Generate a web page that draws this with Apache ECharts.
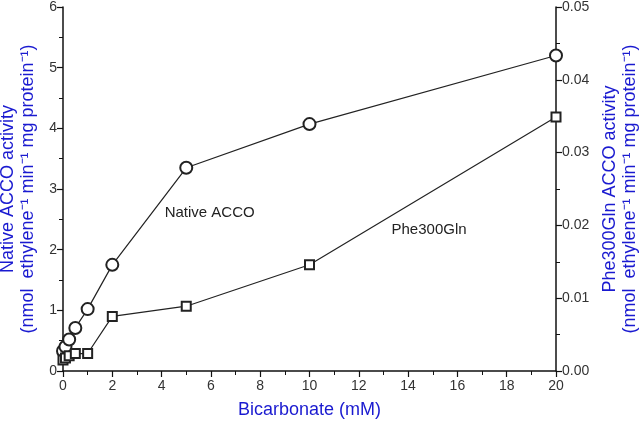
<!DOCTYPE html>
<html><head><meta charset="utf-8">
<script src="https://cdn.jsdelivr.net/npm/echarts@6/dist/echarts.min.js"></script>
<style>html,body{margin:0;padding:0;background:#fff}#c{width:640px;height:422px}</style>
</head><body><div id="c"></div>
<script>
var bicarbonate = [0, 0.1, 0.25, 0.5, 1, 2, 5, 10, 20];
var nativeActivity = [0.33, 0.40, 0.52, 0.71, 1.02, 1.75, 3.35, 4.07, 5.20];
var pheActivity = [0.0015, 0.0018, 0.0021, 0.0024, 0.0024, 0.0075, 0.0089, 0.0146, 0.0349];
var xTicks = [0, 2, 4, 6, 8, 10, 12, 14, 16, 18, 20];
var leftTicks = [0, 1, 2, 3, 4, 5, 6];
var rightTicks = [0, 0.01, 0.02, 0.03, 0.04, 0.05];
var nativeLabel = {text: 'Native ACCO', x: 5.95, y: 2.6};
var pheLabel = {text: 'Phe300Gln', x: 14.85, y: 0.0194};

function pairs(xs, ys){ return xs.map(function(x,i){return [x, ys[i]];}); }

var chart = echarts.init(document.getElementById('c'));
var FONT = 'Liberation Sans, Arial, sans-serif';
var BLUE = '#1a1ad0';
var axisLine = {show: true, lineStyle: {color: '#111', width: 1.5}};
chart.setOption({
  animation: false,
  backgroundColor: '#fff',
  grid: {left: 63, right: 84, top: 7, bottom: 51, containLabel: false, outerBoundsMode: 'none'},
  xAxis: {
    type: 'value', min: xTicks[0], max: xTicks[xTicks.length-1], interval: 2,
    axisLine: axisLine,
    axisTick: {show: true, length: 6, lineStyle: {color: '#111', width: 1.2}},
    minorTick: {show: true, splitNumber: 2, length: 4, lineStyle: {color: '#111', width: 1}},
    splitLine: {show: false},
    axisLabel: {color: '#333', fontSize: 14, fontFamily: FONT, margin: 8},
    name: 'Bicarbonate (mM)', nameLocation: 'middle', nameGap: 30,
    nameTextStyle: {color: BLUE, fontSize: 18, fontFamily: FONT}
  },
  yAxis: [{
    type: 'value', min: leftTicks[0], max: leftTicks[leftTicks.length-1], interval: 1,
    position: 'left',
    axisLine: axisLine,
    axisTick: {show: true, length: 6, lineStyle: {color: '#111', width: 1.2}},
    minorTick: {show: true, splitNumber: 2, length: 4, lineStyle: {color: '#111', width: 1}},
    splitLine: {show: false},
    axisLabel: {color: '#333', fontSize: 14, fontFamily: FONT, margin: 6},
    name: 'Native ACCO activity\n(nmol  ethylene\u207B\u00B9 min\u207B\u00B9 mg protein\u207B\u00B9)',
    nameLocation: 'middle', nameGap: 17, nameRotate: 90,
    nameTextStyle: {color: BLUE, fontSize: 18, fontFamily: FONT, lineHeight: 20}
  }, {
    type: 'value', min: rightTicks[0], max: rightTicks[rightTicks.length-1], interval: 0.01,
    position: 'right',
    axisLine: axisLine,
    axisTick: {show: true, length: 6, lineStyle: {color: '#111', width: 1.2}},
    minorTick: {show: true, splitNumber: 2, length: 4, lineStyle: {color: '#111', width: 1}},
    splitLine: {show: false},
    axisLabel: {color: '#333', fontSize: 14, fontFamily: FONT, margin: 6,
      formatter: function(v){ return v.toFixed(2); }},
    name: 'Phe300Gln ACCO activity\n(nmol  ethylene\u207B\u00B9 min\u207B\u00B9 mg protein\u207B\u00B9)',
    nameLocation: 'middle', nameGap: 44, nameRotate: 90,
    nameTextStyle: {color: BLUE, fontSize: 18, fontFamily: FONT, lineHeight: 20}
  }],
  series: [{
    type: 'line', name: 'Native ACCO', yAxisIndex: 0,
    data: pairs(bicarbonate, nativeActivity),
    symbol: 'emptyCircle', symbolSize: 12, clip: false,
    lineStyle: {color: '#222', width: 1.2},
    itemStyle: {color: '#222', borderWidth: 1},
    markPoint: {symbol: 'circle', symbolSize: 0, silent: true,
      label: {show: true, position: 'inside', color: '#222', fontSize: 15, fontFamily: FONT, formatter: nativeLabel.text},
      data: [{coord: [nativeLabel.x, nativeLabel.y]}]}
  }, {
    type: 'line', name: 'Phe300Gln', yAxisIndex: 1,
    data: pairs(bicarbonate, pheActivity),
    symbol: 'emptyRect', symbolSize: 9, clip: false,
    lineStyle: {color: '#222', width: 1.2},
    itemStyle: {color: '#222', borderWidth: 1},
    markPoint: {symbol: 'circle', symbolSize: 0, silent: true,
      label: {show: true, position: 'inside', color: '#222', fontSize: 15, fontFamily: FONT, formatter: pheLabel.text},
      data: [{coord: [pheLabel.x, pheLabel.y]}]}
  }]
});
</script></body></html>
